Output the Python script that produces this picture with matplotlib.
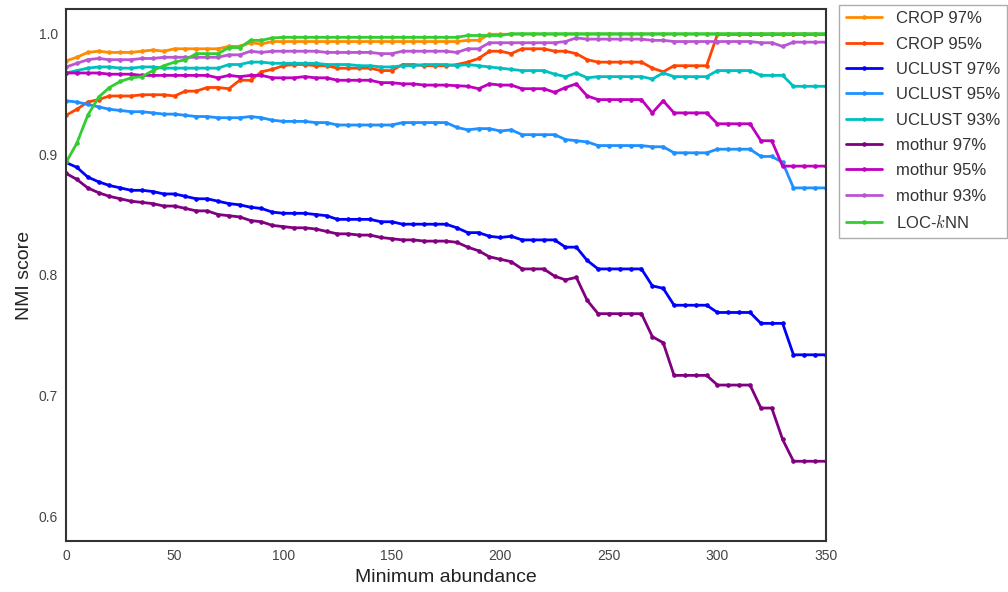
import numpy as np
import matplotlib
matplotlib.use("Agg")
import matplotlib.pyplot as plt
import seaborn as sns

sns.set_style("white")
plt.rcParams["font.family"] = ["Liberation Sans", "DejaVu Sans"]
plt.rcParams["mathtext.fontset"] = "cm"

abundance = list(range(0, 351, 5))

crop_97 = ([0.977, 0.980, 0.984, 0.985, 0.984, 0.984, 0.984, 0.985, 0.986, 0.985,
            0.987, 0.987, 0.987, 0.987, 0.987, 0.989, 0.989, 0.992, 0.991, 0.993]
           + [0.993] * 17 + [0.994, 0.994] + [0.999] * 32)

crop_95 = ([0.932, 0.937, 0.943, 0.945, 0.948, 0.948, 0.948, 0.949, 0.949, 0.949,
            0.948, 0.952, 0.952, 0.955, 0.955, 0.954, 0.961, 0.961, 0.968, 0.970,
            0.973, 0.974, 0.974, 0.973, 0.973, 0.971, 0.971, 0.971, 0.971, 0.969,
            0.969, 0.974, 0.974, 0.973, 0.973, 0.973, 0.974, 0.976, 0.979, 0.985,
            0.985, 0.983, 0.987, 0.987, 0.987, 0.985, 0.985, 0.983, 0.978, 0.976,
            0.976, 0.976, 0.976, 0.976, 0.971, 0.968, 0.973, 0.973, 0.973, 0.973]
           + [0.999] * 11)

uclust_97 = ([0.893, 0.889, 0.881, 0.877, 0.874, 0.872, 0.870, 0.870, 0.869, 0.867,
              0.867, 0.865, 0.863, 0.863, 0.861, 0.859, 0.858, 0.856, 0.855, 0.852,
              0.851, 0.851, 0.851, 0.850, 0.849, 0.846, 0.846, 0.846, 0.846, 0.844,
              0.844, 0.842, 0.842, 0.842, 0.842, 0.842, 0.839, 0.835, 0.835, 0.832,
              0.831, 0.832, 0.829, 0.829, 0.829, 0.829, 0.823, 0.823, 0.812, 0.805,
              0.805, 0.805, 0.805, 0.805, 0.791, 0.789, 0.775, 0.775, 0.775, 0.775,
              0.769, 0.769, 0.769, 0.769, 0.760, 0.760, 0.760, 0.734, 0.734, 0.734,
              0.734])

uclust_95 = ([0.944, 0.943, 0.941, 0.939, 0.937, 0.936, 0.935, 0.935, 0.934, 0.933,
              0.933, 0.932, 0.931, 0.931, 0.930, 0.930, 0.930, 0.931, 0.930, 0.928,
              0.927, 0.927, 0.927, 0.926, 0.926, 0.924, 0.924, 0.924, 0.924, 0.924,
              0.924, 0.926, 0.926, 0.926, 0.926, 0.926, 0.922, 0.920, 0.921, 0.921,
              0.919, 0.920, 0.916, 0.916, 0.916, 0.916, 0.912, 0.911, 0.910, 0.907,
              0.907, 0.907, 0.907, 0.907, 0.906, 0.906, 0.901, 0.901, 0.901, 0.901,
              0.904, 0.904, 0.904, 0.904, 0.898, 0.898, 0.893, 0.872, 0.872, 0.872,
              0.872])

uclust_93 = ([0.967, 0.969, 0.971, 0.972, 0.972, 0.971, 0.971, 0.972, 0.972, 0.971,
              0.971, 0.971, 0.971, 0.971, 0.971, 0.974, 0.974, 0.976, 0.976, 0.975,
              0.975, 0.975, 0.975, 0.975, 0.974, 0.974, 0.974, 0.973, 0.973, 0.972,
              0.972, 0.973, 0.973, 0.974, 0.974, 0.974, 0.973, 0.974, 0.973, 0.972,
              0.971, 0.970, 0.969, 0.969, 0.969, 0.966, 0.964, 0.967, 0.963, 0.964,
              0.964, 0.964, 0.964, 0.964, 0.962, 0.967, 0.964, 0.964, 0.964, 0.964,
              0.969, 0.969, 0.969, 0.969, 0.965, 0.965, 0.965, 0.956, 0.956, 0.956,
              0.956])

mothur_97 = ([0.884, 0.879, 0.872, 0.868, 0.865, 0.863, 0.861, 0.860, 0.859, 0.857,
              0.857, 0.855, 0.853, 0.853, 0.850, 0.849, 0.848, 0.845, 0.844, 0.841,
              0.840, 0.839, 0.839, 0.838, 0.836, 0.834, 0.834, 0.833, 0.833, 0.831,
              0.830, 0.829, 0.829, 0.828, 0.828, 0.828, 0.827, 0.823, 0.820, 0.815,
              0.813, 0.811, 0.805, 0.805, 0.805, 0.799, 0.796, 0.798, 0.779, 0.768,
              0.768, 0.768, 0.768, 0.768, 0.749, 0.744, 0.717, 0.717, 0.717, 0.717,
              0.709, 0.709, 0.709, 0.709, 0.690, 0.690, 0.664, 0.646, 0.646, 0.646,
              0.646])

mothur_95 = ([0.967, 0.967, 0.967, 0.967, 0.966, 0.966, 0.966, 0.965, 0.965, 0.965,
              0.965, 0.965, 0.965, 0.965, 0.963, 0.965, 0.964, 0.965, 0.965, 0.963,
              0.963, 0.963, 0.964, 0.963, 0.963, 0.961, 0.961, 0.961, 0.961, 0.959,
              0.959, 0.958, 0.958, 0.957, 0.957, 0.957, 0.9565, 0.956, 0.954, 0.958,
              0.957, 0.957, 0.954, 0.954, 0.954, 0.951, 0.955, 0.958, 0.948, 0.945,
              0.945, 0.945, 0.945, 0.945, 0.934, 0.944, 0.934, 0.934, 0.934, 0.934,
              0.925, 0.925, 0.925, 0.925, 0.911, 0.911, 0.890, 0.890, 0.890, 0.890,
              0.890])

mothur_93 = ([0.972, 0.975, 0.978, 0.979, 0.978, 0.978, 0.978, 0.979, 0.979, 0.980,
              0.980, 0.980, 0.980, 0.980, 0.980, 0.982, 0.982, 0.985, 0.984, 0.985,
              0.985, 0.985, 0.985, 0.985, 0.984, 0.984, 0.984, 0.984, 0.984, 0.983,
              0.983, 0.985, 0.985, 0.985, 0.985, 0.985, 0.984, 0.987, 0.987, 0.992,
              0.992, 0.992, 0.992, 0.992, 0.992, 0.992, 0.993, 0.996, 0.995, 0.995,
              0.995, 0.995, 0.995, 0.995, 0.994, 0.994, 0.993, 0.993, 0.993, 0.993,
              0.993, 0.993, 0.993, 0.993, 0.992, 0.992, 0.989, 0.9925, 0.9925, 0.9925,
              0.9925])

loc_knn = ([0.893, 0.909, 0.932, 0.947, 0.955, 0.960, 0.963, 0.964, 0.969, 0.973,
            0.976, 0.978, 0.983, 0.983, 0.983, 0.988, 0.988, 0.994, 0.994, 0.996]
           + [0.9965] * 17 + [0.998] * 4 + [0.9995] * 30)

series = [
    ("CROP 97%", crop_97, "darkorange"),
    ("CROP 95%", crop_95, "orangered"),
    ("UCLUST 97%", uclust_97, "blue"),
    ("UCLUST 95%", uclust_95, "dodgerblue"),
    ("UCLUST 93%", uclust_93, "c"),
    ("mothur 97%", mothur_97, "purple"),
    ("mothur 95%", mothur_95, "m"),
    ("mothur 93%", mothur_93, "mediumorchid"),
    ("LOC-$k$NN", loc_knn, "limegreen"),
]

fig = plt.figure(figsize=(10.08, 5.92), dpi=100)
ax = fig.add_axes([0.0655, 0.086, 0.754, 0.899])

for label, values, color in series:
    ax.plot(abundance, values, color=color, lw=2, marker="o", markersize=2.3,
            label=label)

ax.set_xlim(0, 350)
ax.set_ylim(0.58, 1.02)
ax.set_xticks([0, 50, 100, 150, 200, 250, 300, 350])
ax.set_yticks([0.6, 0.7, 0.8, 0.9, 1.0])
ax.tick_params(labelsize=10, colors="#444444", length=0, pad=6)
ax.set_xlabel("Minimum abundance", fontsize=14, color="#222222", labelpad=4)
ax.set_ylabel("NMI score", fontsize=14, color="#222222", labelpad=4)
for s in ax.spines.values():
    s.set_color("#333333")
    s.set_linewidth(1.5)

leg = ax.legend(loc="upper left", bbox_to_anchor=(1.017, 1.008), fontsize=12,
                frameon=True, fancybox=False, borderaxespad=0, handlelength=2.2,
                handletextpad=0.8, labelspacing=0.62, borderpad=0.4)
leg.get_frame().set_edgecolor("#999999")
for t in leg.get_texts():
    t.set_color("#333333")

fig.savefig("out.png", dpi=100)
